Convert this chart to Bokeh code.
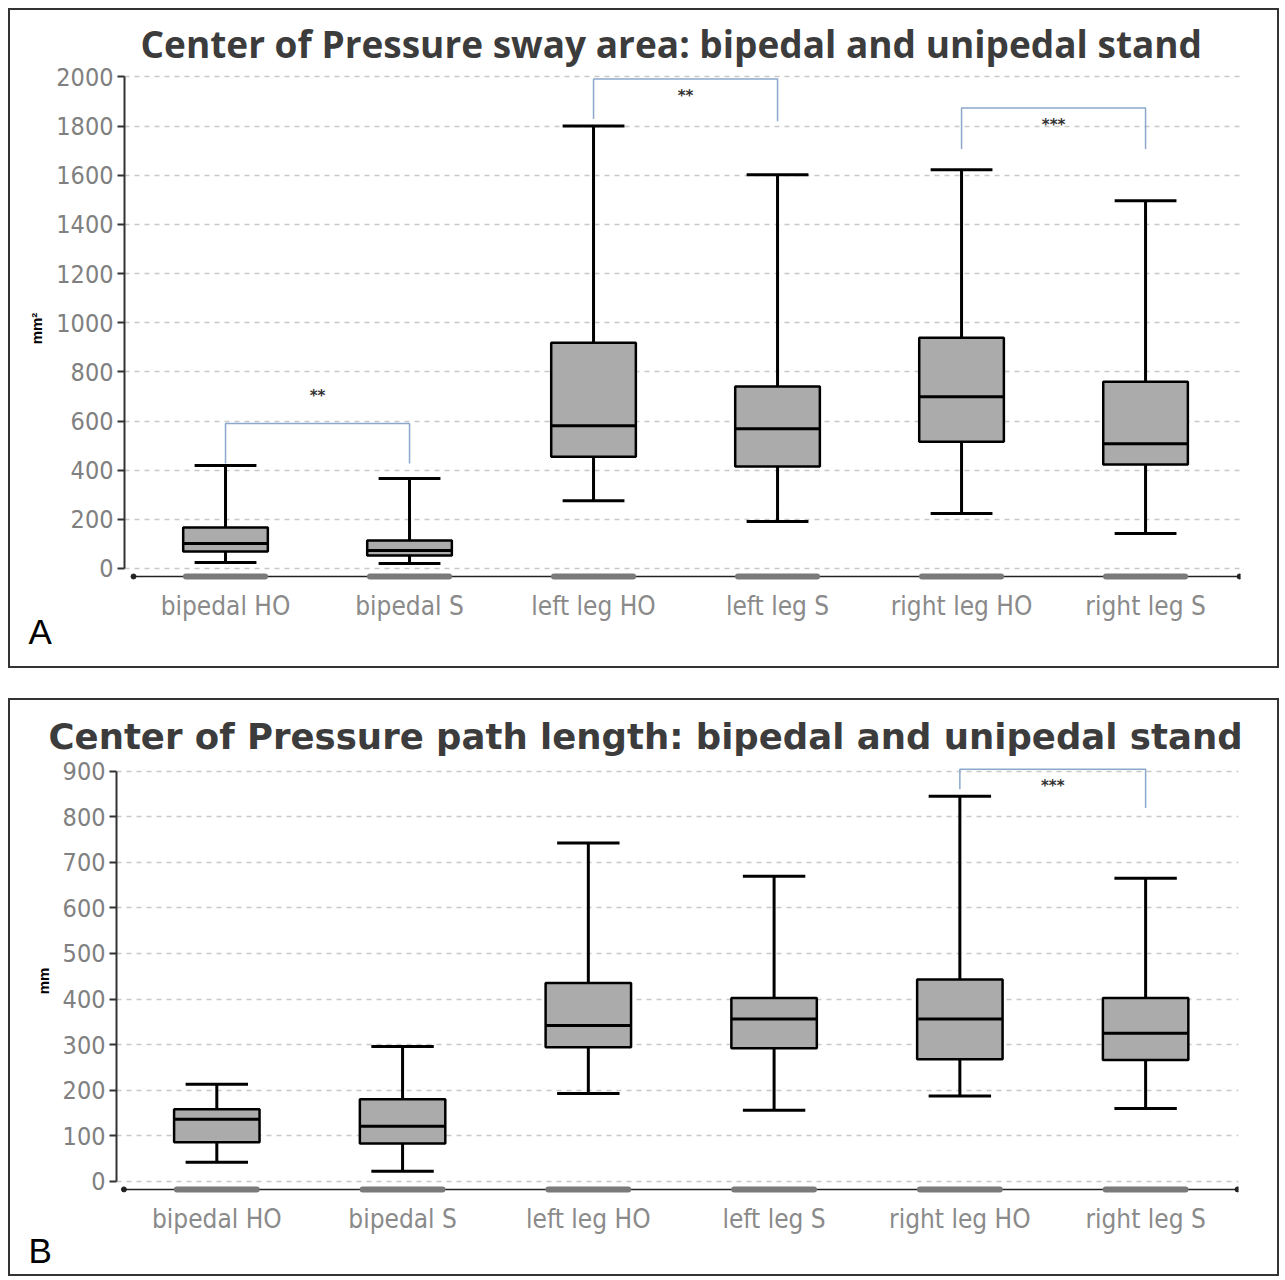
from bokeh.plotting import figure
from bokeh.layouts import column
from bokeh.models import Range1d, FixedTicker, Title, ColumnDataSource
from bokeh.core.properties import value
from bokeh.embed import file_html
from bokeh.resources import INLINE

categories = ["bipedal HO", "bipedal S", "left leg HO", "left leg S", "right leg HO", "right leg S"]

# Panel A: Center of Pressure sway area (mm²)
a_min = [24, 20, 276, 191, 224, 142]
a_q1 = [69, 53, 455, 415, 516, 423]
a_med = [102, 73, 581, 569, 699, 508]
a_q3 = [167, 114, 919, 740, 939, 760]
a_max = [419, 366, 1800, 1602, 1622, 1496]
a_ticks = [0, 200, 400, 600, 800, 1000, 1200, 1400, 1600, 1800, 2000]
a_sig_pairs = [(0, 1), (2, 3), (4, 5)]
a_sig_top = [590, 1992, 1874]
a_sig_feet = [(427, 427), (1829, 1820), (1707, 1707)]
a_sig_text = ["**", "**", "***"]
a_sig_text_y = [703, 1923, 1805]

# Panel B: Center of Pressure path length (mm)
b_min = [42, 22, 193, 156, 187, 160]
b_q1 = [86, 83, 294, 292, 268, 266]
b_med = [136, 121, 342, 356, 356, 325]
b_q3 = [158, 180, 435, 402, 443, 402]
b_max = [213, 296, 742, 669, 845, 665]
b_ticks = [0, 100, 200, 300, 400, 500, 600, 700, 800, 900]
b_sig_pairs = [(4, 5)]
b_sig_top = [904]
b_sig_feet = [(860, 819)]
b_sig_text = ["***"]
b_sig_text_y = [867]

FIG_W = 1267
TICK_FONT = "DejaVu Sans Condensed, Lato"


def make_panel(height, xr, yr, ticks, ymax_bound, mins, q1, med, q3, maxs,
               pairs, tops, feet, texts, text_y, ylabel, title, title_font,
               title_size, title_offset, title_standoff, letter, letter_offset,
               letter_standoff, xlabel_standoff, baseline_y, borders):
    p = figure(width=FIG_W, height=height, x_range=Range1d(*xr), y_range=Range1d(*yr),
               output_backend="svg", toolbar_location=None, tools="",
               min_border_left=borders[0], min_border_right=borders[1],
               min_border_top=borders[2], min_border_bottom=borders[3])
    p.outline_line_color = None
    p.background_fill_color = "white"
    p.border_fill_color = "white"

    xs = [i + 0.5 for i in range(len(categories))]
    src = ColumnDataSource(dict(x=xs, lo=mins, q1=q1, med=med, q3=q3, hi=maxs,
                                l=[x - 0.23 for x in xs], r=[x + 0.23 for x in xs],
                                cl=[x - 0.168 for x in xs], cr=[x + 0.168 for x in xs],
                                gl=[x - 0.215 for x in xs], gr=[x + 0.215 for x in xs],
                                base=[baseline_y] * len(xs)))

    # grid
    p.xgrid.visible = False
    p.ygrid.grid_line_color = "#c8c8c8"
    p.ygrid.grid_line_dash = "5 5"
    p.ygrid.grid_line_width = 1.5

    # y axis
    p.yaxis.ticker = FixedTicker(ticks=ticks)
    p.yaxis.bounds = (0, ymax_bound)
    p.yaxis.axis_line_color = "#333333"
    p.yaxis.axis_line_width = 2
    p.yaxis.major_tick_line_color = "#333333"
    p.yaxis.major_tick_line_width = 2
    p.yaxis.major_tick_out = 7
    p.yaxis.major_tick_in = 0
    p.yaxis.minor_tick_line_color = None
    p.yaxis.major_label_text_font = TICK_FONT
    p.yaxis.major_label_text_font_size = "25px"
    p.yaxis.major_label_text_color = "#808080"
    p.yaxis.major_label_standoff = 4
    p.yaxis.axis_label = ylabel
    p.yaxis.axis_label_text_font = "Liberation Sans"
    p.yaxis.axis_label_text_font_style = "bold"
    p.yaxis.axis_label_text_font_size = "15px"
    p.yaxis.axis_label_text_color = "black"
    p.yaxis.axis_label_standoff = 8

    # x axis (category labels at fixed positions)
    p.xaxis.ticker = FixedTicker(ticks=xs)
    p.xaxis.major_label_overrides = {x: c for x, c in zip(xs, categories)}
    p.xaxis.axis_line_color = None
    p.xaxis.major_tick_line_color = None
    p.xaxis.minor_tick_line_color = None
    p.xaxis.major_label_text_font = TICK_FONT
    p.xaxis.major_label_text_font_size = "26px"
    p.xaxis.major_label_text_color = "#8a8a8a"
    p.xaxis.major_label_standoff = xlabel_standoff

    # baseline with end dots and gray bars under each group
    p.segment(x0=0, y0=baseline_y, x1=xr[1], y1=baseline_y, line_color="#222222", line_width=1.5)
    p.scatter(x=[0, xr[1] - 0.005], y=[baseline_y, baseline_y], size=5, color="#222222")
    p.segment(x0="gl", y0="base", x1="gr", y1="base", source=src, line_color="#7a7a7a",
              line_width=6, line_cap="round")

    # whiskers
    p.segment(x0="x", y0="q3", x1="x", y1="hi", source=src, line_color="black", line_width=3)
    p.segment(x0="x", y0="q1", x1="x", y1="lo", source=src, line_color="black", line_width=3)
    p.segment(x0="cl", y0="hi", x1="cr", y1="hi", source=src, line_color="black", line_width=3)
    p.segment(x0="cl", y0="lo", x1="cr", y1="lo", source=src, line_color="black", line_width=3)
    # boxes
    p.vbar(x="x", width=0.46, bottom="q1", top="q3", source=src, fill_color="#ababab",
           line_color="black", line_width=2.5)
    p.segment(x0="l", y0="med", x1="r", y1="med", source=src, line_color="black", line_width=3)

    # significance brackets
    for (i, j), top, (fl, fr), t, ty in zip(pairs, tops, feet, texts, text_y):
        xi, xj = xs[i], xs[j]
        p.line(x=[xi, xi, xj, xj], y=[fl, top, top, fr], line_color="#8aa8cc", line_width=1.5)
        p.text(x=[(xi + xj) / 2], y=[ty], text=[t], text_align="center", text_baseline="middle",
               text_font=value("DejaVu Sans"), text_font_style="bold", text_font_size="15px",
               text_color="#333333")

    p.add_layout(Title(text=title, align="left", offset=title_offset, standoff=title_standoff,
                       text_font=title_font, text_font_style="bold",
                       text_font_size=title_size, text_color="#3c3c3c"), "above")
    p.add_layout(Title(text=letter, align="left", vertical_align="top", offset=letter_offset,
                       standoff=letter_standoff, text_font="Liberation Sans",
                       text_font_style="normal", text_font_size="35px",
                       text_color="black"), "below")
    return p


pA = make_panel(656, (-0.049, 6.016), (-57, 2010), a_ticks, 2000,
                a_min, a_q1, a_med, a_q3, a_max,
                a_sig_pairs, a_sig_top, a_sig_feet, a_sig_text, a_sig_text_y,
                "mm²", "Center of Pressure sway area: bipedal and unipedal stand",
                "Open Sans", "37px", 16, 11, "A", -96, -24, 2, -32.5,
                (114, 37, 64, 84))

pB = make_panel(574, (-0.04, 6.0), (-31, 910), b_ticks, 900,
                b_min, b_q1, b_med, b_q3, b_max,
                b_sig_pairs, b_sig_top, b_sig_feet, b_sig_text, b_sig_text_y,
                "mm", "Center of Pressure path length: bipedal and unipedal stand",
                "DejaVu Sans", "35.5px", -68, 20, "B", -88, -12, 2, -17.6,
                (106, 39, 66, 79))

boxA = column(pA, styles={"border": "2px solid #333333"})
boxB = column(pB, styles={"border": "2px solid #333333"})
layout = column(boxA, boxB, spacing=30, styles={"padding": "8px 0 0 8px"})
open("out.html", "w").write(file_html(layout, INLINE))
